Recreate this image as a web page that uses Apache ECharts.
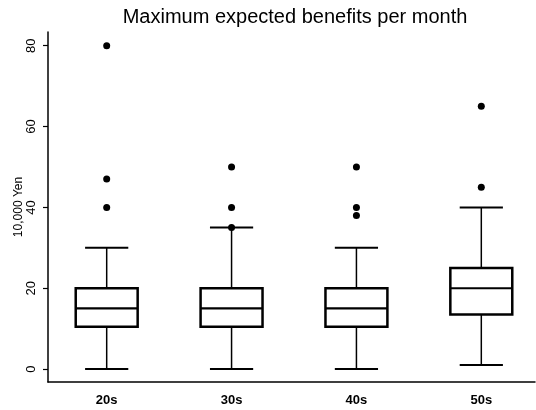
<!DOCTYPE html>
<html lang="en">
    <head>
        <meta charset="UTF-8" />
        <title>Maximum expected benefits per month</title>
        <script src="https://cdn.jsdelivr.net/npm/echarts@6/dist/echarts.min.js"></script>
        <style>
            * {
                margin: 0;
                padding: 0;
            }
            body {
                background: #fff;
            }
            #container {
                width: 536px;
                height: 410px;
            }
        </style>
    </head>
    <body>
        <div id="container"></div>
        <script type="text/javascript">
            // age groups and box statistics, 10,000 Yen
            const categories = ['20s', '30s', '40s', '50s'];
            const lowWhisker = [0, 0, 0, 1];
            const q1 = [10.5, 10.5, 10.5, 13.5];
            const median = [15, 15, 15, 20];
            const q3 = [20, 20, 20, 25];
            const highWhisker = [30, 35, 30, 40];
            const outliers = [
                [80, 47, 40],
                [50, 40, 35],
                [50, 40, 38],
                [65, 45],
            ];
            const yTicks = [0, 20, 40, 60, 80];

            const xPos = categories.map((c, i) => i + 1);

            const boxData = categories.map((c, i) => [xPos[i], lowWhisker[i], q1[i], median[i], q3[i], highWhisker[i]]);
            const outlierData = [];
            outliers.forEach((list, i) => {
                list.forEach((v) => outlierData.push([xPos[i], v]));
            });

            const myChart = echarts.init(document.getElementById('container'));

            const renderBox = function (params, api) {
                const x = api.value(0);
                const band = api.size([1, 0])[0];
                const half = band * 0.248;
                const capHalf = band * 0.173;
                const pLow = api.coord([x, api.value(1)]);
                const pQ1 = api.coord([x, api.value(2)]);
                const pMed = api.coord([x, api.value(3)]);
                const pQ3 = api.coord([x, api.value(4)]);
                const pHigh = api.coord([x, api.value(5)]);
                const cx = pMed[0];
                const black = '#000';
                return {
                    type: 'group',
                    children: [
                        {
                            type: 'line',
                            shape: { x1: cx, y1: pQ3[1], x2: cx, y2: pHigh[1] },
                            style: { stroke: black, lineWidth: 1.5 },
                        },
                        {
                            type: 'line',
                            shape: { x1: cx, y1: pQ1[1], x2: cx, y2: pLow[1] },
                            style: { stroke: black, lineWidth: 1.5 },
                        },
                        {
                            type: 'line',
                            shape: { x1: cx - capHalf, y1: pHigh[1], x2: cx + capHalf, y2: pHigh[1] },
                            style: { stroke: black, lineWidth: 2 },
                        },
                        {
                            type: 'line',
                            shape: { x1: cx - capHalf, y1: pLow[1], x2: cx + capHalf, y2: pLow[1] },
                            style: { stroke: black, lineWidth: 2 },
                        },
                        {
                            type: 'rect',
                            shape: { x: cx - half, y: pQ3[1], width: half * 2, height: pQ1[1] - pQ3[1] },
                            style: { fill: '#fff', stroke: black, lineWidth: 2.5 },
                        },
                        {
                            type: 'line',
                            shape: { x1: cx - half, y1: pMed[1], x2: cx + half, y2: pMed[1] },
                            style: { stroke: black, lineWidth: 2.2 },
                        },
                    ],
                };
            };

            const option = {
                animation: false,
                backgroundColor: '#fff',
                title: {
                    text: 'Maximum expected benefits per month',
                    left: 290,
                    top: 2,
                    textAlign: 'center',
                    textStyle: {
                        fontFamily: 'Liberation Sans',
                        fontSize: 20,
                        fontWeight: 'normal',
                        color: '#000',
                    },
                },
                grid: {
                    left: 48,
                    right: 1,
                    top: 32,
                    bottom: 28,
                    containLabel: false,
                    outerBoundsMode: 'none',
                },
                xAxis: {
                    type: 'value',
                    min: 0.53,
                    max: 4.43,
                    splitLine: { show: false },
                    axisLine: { show: true, onZero: false, lineStyle: { color: '#000', width: 1.5 } },
                    axisTick: { show: false },
                    axisLabel: {
                        customValues: xPos,
                        formatter: (v) => categories[Math.round(v) - 1],
                        color: '#000',
                        fontFamily: 'Liberation Sans',
                        fontWeight: 'bold',
                        fontSize: 13,
                        margin: 12,
                    },
                },
                yAxis: {
                    type: 'value',
                    min: -3.2,
                    max: 83.4,
                    name: '10,000 Yen',
                    nameLocation: 'middle',
                    nameRotate: 90,
                    nameGap: 23,
                    nameMoveOverlap: false,
                    nameTextStyle: {
                        fontFamily: 'Liberation Sans',
                        fontSize: 12,
                        color: '#000',
                    },
                    splitLine: { show: false },
                    axisLine: { show: true, onZero: false, lineStyle: { color: '#000', width: 1.5 } },
                    axisTick: {
                        show: true,
                        customValues: yTicks,
                        length: 5,
                        lineStyle: { color: '#000', width: 1.2 },
                    },
                    axisLabel: {
                        customValues: yTicks,
                        rotate: 90,
                        color: '#000',
                        fontFamily: 'Liberation Sans',
                        fontSize: 13,
                        margin: 10,
                    },
                },
                series: [
                    {
                        type: 'custom',
                        renderItem: renderBox,
                        encode: { x: 0, y: [1, 2, 3, 4, 5] },
                        data: boxData,
                        clip: false,
                    },
                    {
                        type: 'scatter',
                        data: outlierData,
                        symbol: 'circle',
                        symbolSize: 7,
                        itemStyle: { color: '#000', opacity: 1 },
                    },
                ],
            };

            myChart.setOption(option);
        </script>
    </body>
</html>
